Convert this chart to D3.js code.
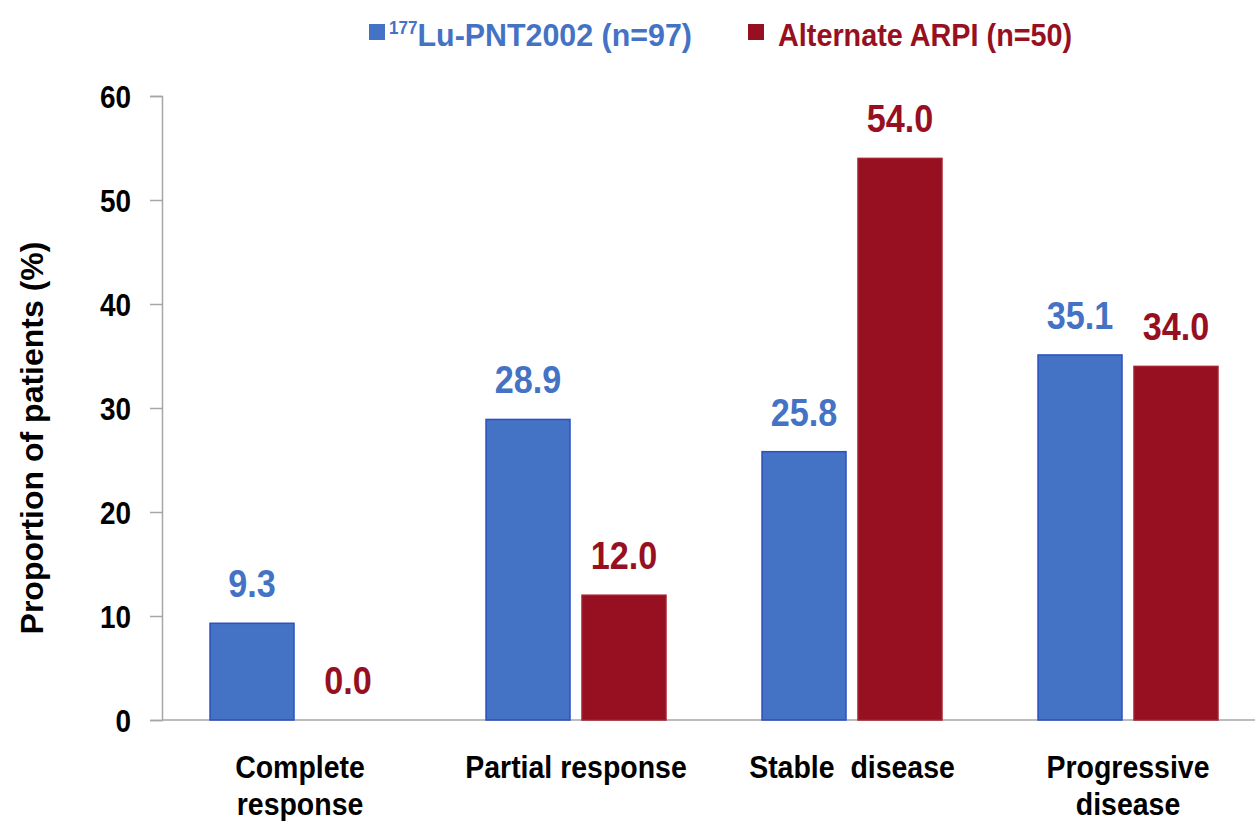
<!DOCTYPE html>
<html>
<head>
<meta charset="utf-8">
<script src="https://cdn.jsdelivr.net/npm/d3@7"></script>
<style>
  body { margin: 0; background: #fff; }
  svg text { font-family: "Liberation Sans", Arial, sans-serif; font-weight: bold; }
</style>
</head>
<body>
<svg id="chart" width="1255" height="821"></svg>
<script>
// chart data
const categories = ['Complete response', 'Partial response', 'Stable disease', 'Progressive disease'];
const categoryLines = [['Complete', 'response'], ['Partial response'], ['Stable\u00a0 disease'], ['Progressive', 'disease']];
const seriesNames = ['lu', 'arpi'];
const luValues = [9.3, 28.9, 25.8, 35.1];
const arpiValues = [0.0, 12.0, 54.0, 34.0];
const yTicks = [0, 10, 20, 30, 40, 50, 60];

const colors = { lu: '#4472c4', arpi: '#971022' };
const borders = { lu: '#2d4fc0', arpi: '#a3202f' };

// narrow look: squeeze a regular bold face horizontally
const NARROW = 0.9;

const svg = d3.select('#chart');

const y = d3.scaleLinear().domain([0, 60]).range([720, 96]);
const x0 = d3.scaleBand().domain(categories).range([162, 1266]).paddingInner(0.348).paddingOuter(0.174);
const x1 = d3.scaleBand().domain(seriesNames).range([0, x0.bandwidth()]).paddingInner(0.125);

const rows = categories.map((c, i) => ({ cat: c, lines: categoryLines[i], lu: luValues[i], arpi: arpiValues[i] }));

function narrowText(parent, x, yy, size, sx) {
  return parent.append('text')
    .attr('transform', `translate(${x},${yy}) scale(${sx},1)`)
    .style('font-size', `${size}px`);
}

// y axis
const yAxis = svg.append('g')
  .attr('transform', 'translate(162,0)')
  .call(d3.axisLeft(y).tickValues(yTicks).tickSize(12));
yAxis.select('.domain').attr('stroke', '#a6a6a6').attr('stroke-width', 1.5);
yAxis.selectAll('.tick line').attr('stroke', '#a6a6a6').attr('stroke-width', 1.5);
yAxis.selectAll('.tick text')
  .attr('fill', '#000')
  .style('font-size', '31px')
  .attr('x', -31 / 0.9)
  .attr('dy', '0.36em')
  .attr('transform', 'scale(0.9,1)');

// baseline
svg.append('line')
  .attr('x1', 162).attr('x2', 1255)
  .attr('y1', y(0)).attr('y2', y(0))
  .attr('stroke', '#a6a6a6').attr('stroke-width', 1.5);

// bars
const groups = svg.selectAll('.group')
  .data(rows)
  .enter()
  .append('g')
  .attr('class', 'group')
  .attr('transform', d => `translate(${x0(d.cat)},0)`);

groups.selectAll('rect')
  .data(d => seriesNames.map(s => ({ key: s, value: d[s] })))
  .enter()
  .append('rect')
  .attr('x', d => x1(d.key))
  .attr('y', d => y(d.value))
  .attr('width', x1.bandwidth())
  .attr('height', d => y(0) - y(d.value))
  .attr('fill', d => colors[d.key])
  .attr('stroke', d => (d.value > 0 ? borders[d.key] : 'none'))
  .attr('stroke-width', 1.5);

// value labels
groups.each(function (d) {
  const g = d3.select(this);
  seriesNames.forEach((s) => {
    narrowText(g, x1(s) + x1.bandwidth() / 2, y(d[s]) - 26, 38, NARROW)
      .attr('text-anchor', 'middle')
      .attr('fill', colors[s])
      .text(d[s].toFixed(1));
  });
});

// category labels
groups.each(function (d) {
  const g = d3.select(this);
  d.lines.forEach((line, i) => {
    narrowText(g, x0.bandwidth() / 2, 778 + i * 37, 32, 0.89)
      .attr('text-anchor', 'middle')
      .attr('fill', '#000')
      .text(line);
  });
});

// y axis title
svg.append('text')
  .attr('transform', `translate(43,${(y(0) + y(60)) / 2 + 30}) rotate(-90)`)
  .attr('text-anchor', 'middle')
  .attr('fill', '#000')
  .style('font-size', '32px')
  .text('Proportion of patients (%)');

// legend
const legend = svg.append('g');
legend.append('rect').attr('x', 369).attr('y', 24).attr('width', 16).attr('height', 16).attr('fill', colors.lu);
const lt = narrowText(legend, 389, 46, 32, 0.95).attr('fill', colors.lu);
lt.append('tspan').attr('dy', '-12').style('font-size', '18px').text('177');
lt.append('tspan').attr('dy', '12').text('Lu-PNT2002 (n=97)');

legend.append('rect').attr('x', 748).attr('y', 24).attr('width', 16).attr('height', 16).attr('fill', colors.arpi);
narrowText(legend, 778, 46, 32, 0.9).attr('fill', colors.arpi)
  .text('Alternate ARPI (n=50)');
</script>
</body>
</html>
